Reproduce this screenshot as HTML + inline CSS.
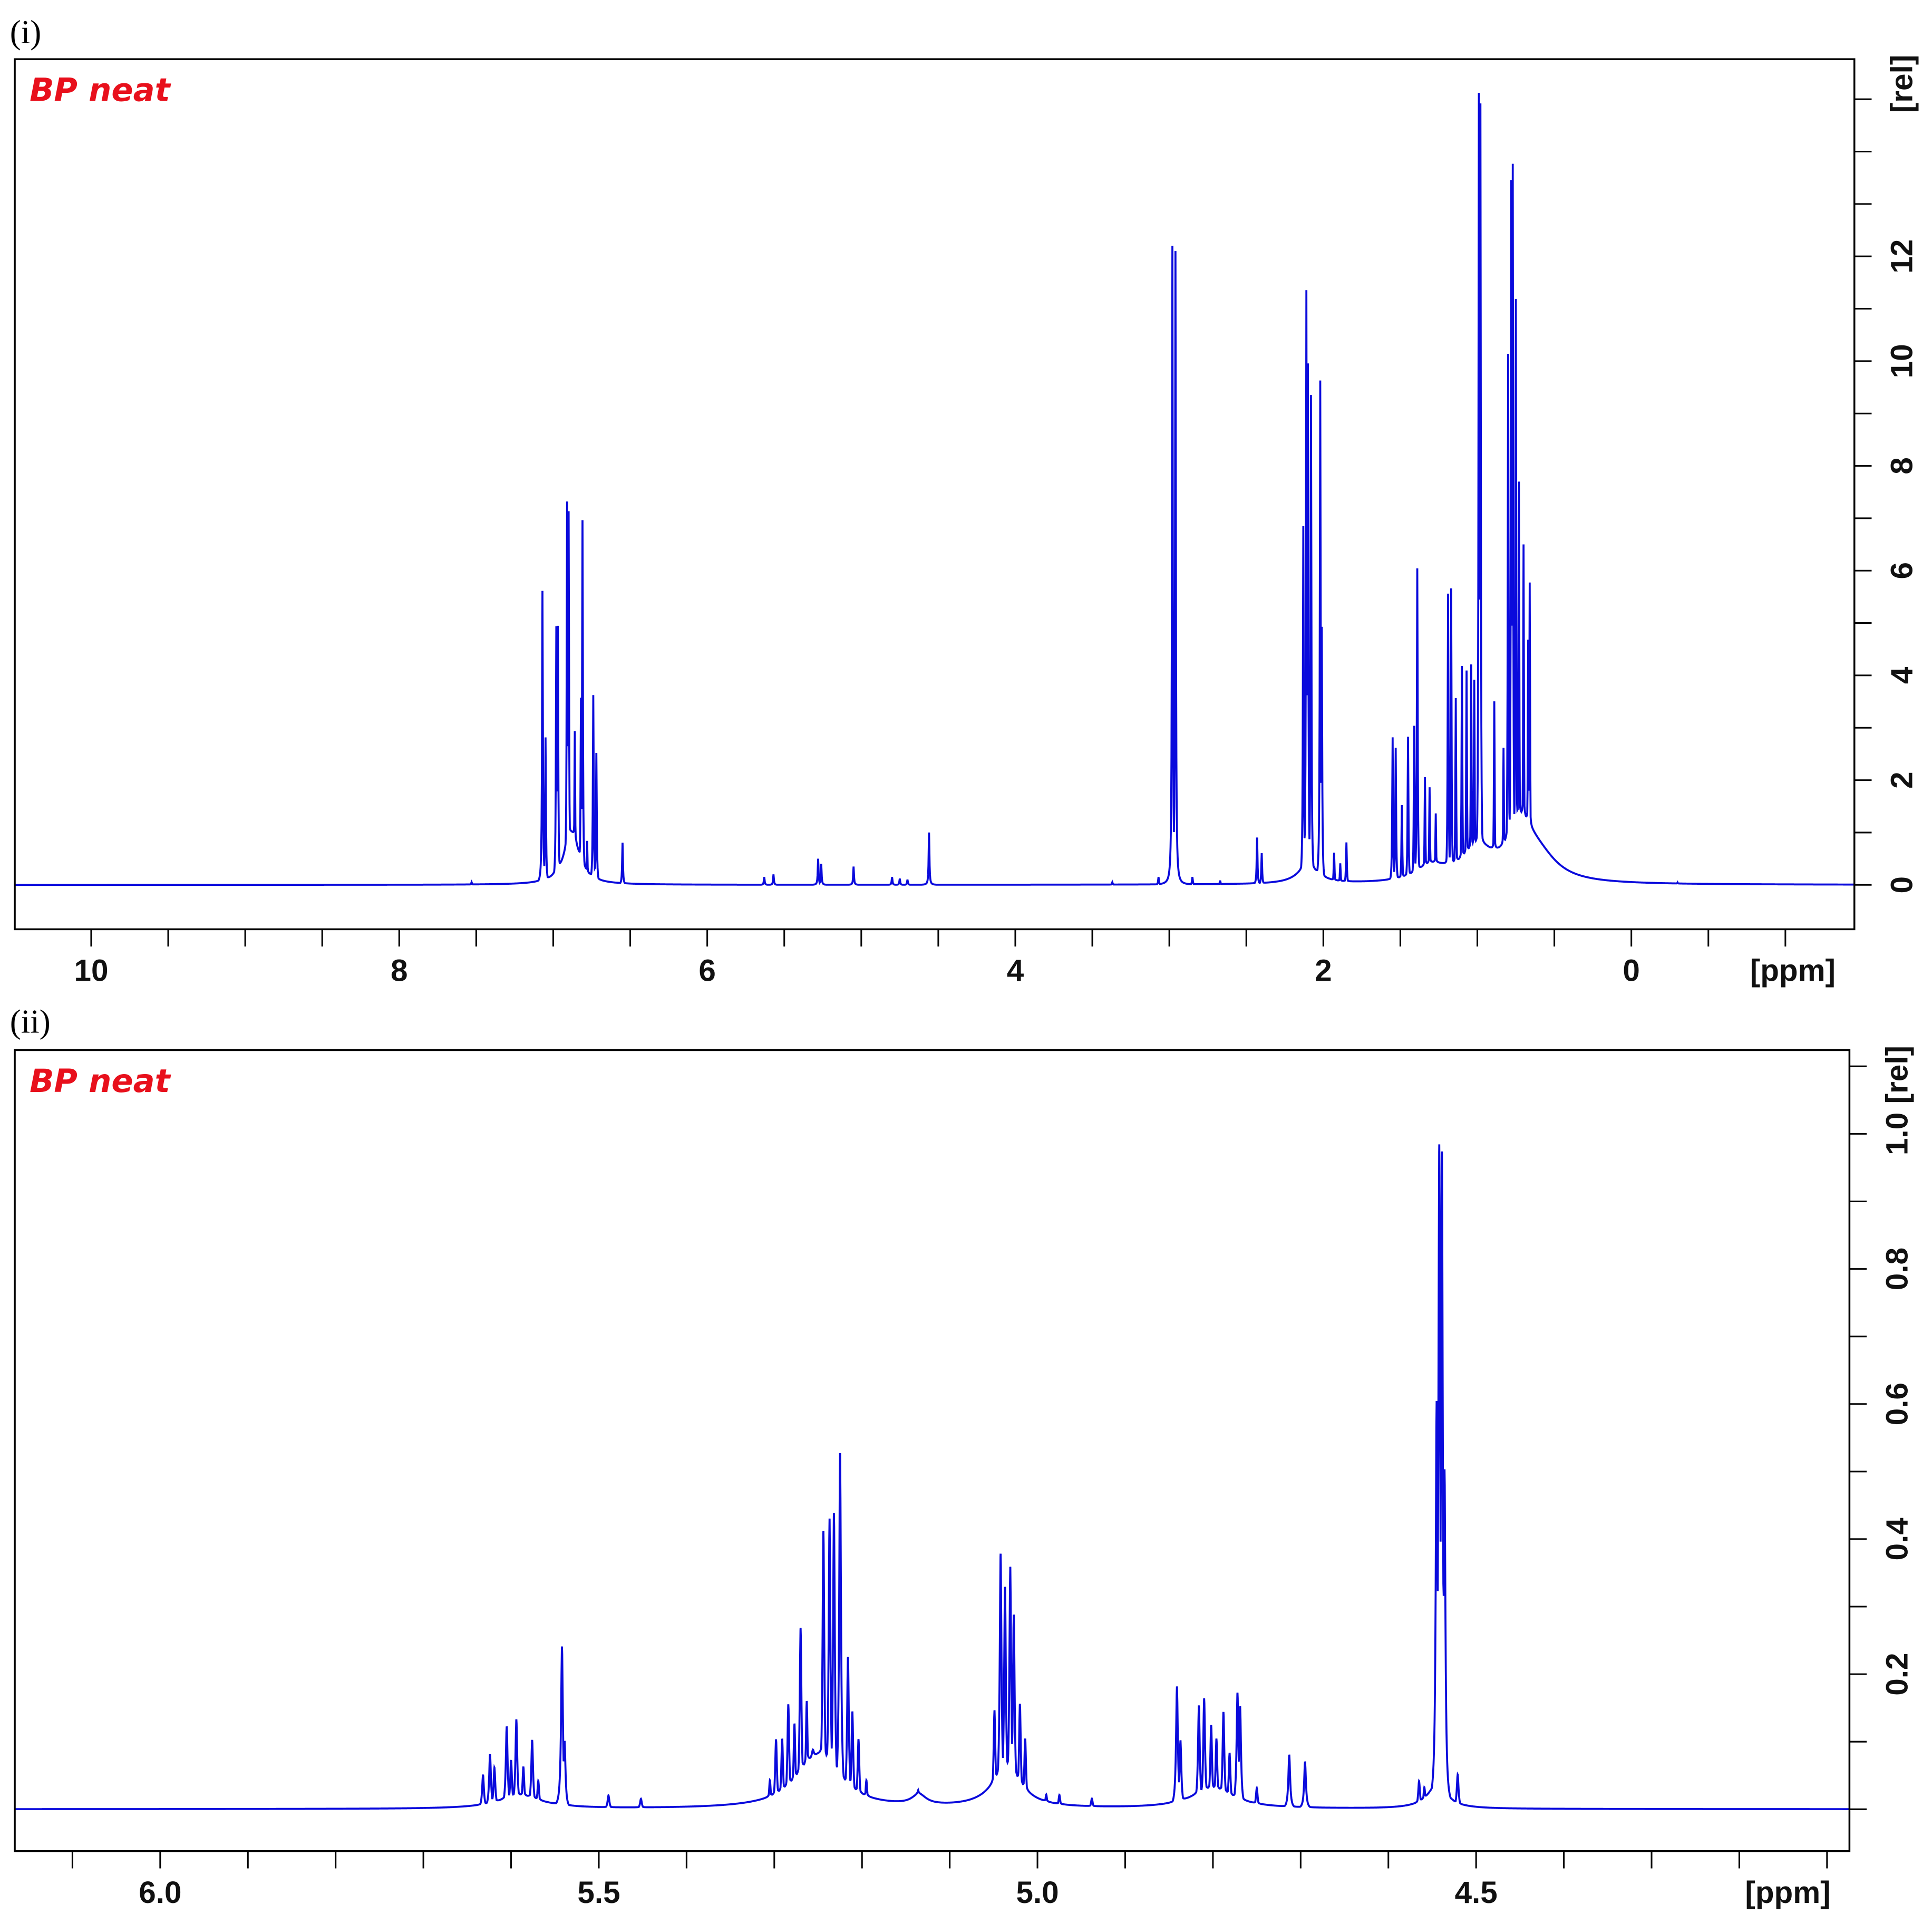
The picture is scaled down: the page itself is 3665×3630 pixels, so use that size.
<!DOCTYPE html>
<html><head><meta charset="utf-8"><style>
html,body{margin:0;padding:0;background:#fff}
svg{display:block}
.tk{font-family:"Liberation Sans",sans-serif;font-weight:bold;font-size:25px;fill:#111}
</style></head><body>
<svg id="chart" width="3665" height="3630" viewBox="0 0 1568 1553" xmlns="http://www.w3.org/2000/svg">
<rect width="1568" height="1553" fill="#fff"/>
<text x="8" y="35" font-family="Liberation Serif,serif" font-size="27">(i)</text>
<text x="8" y="838" font-family="Liberation Serif,serif" font-size="27">(ii)</text>
<g id="p1"></g>
<g id="p2"></g>
</svg>
<script>
// Panel (i) full spectrum peaks
const p1Ppm = [7.53,7.07,7.05,6.98,6.97,6.91,6.90,6.86,6.82,6.81,6.78,6.74,6.72,6.55,5.63,5.57,5.28,5.26,5.05,4.80,4.75,4.70,4.56,3.37,3.07,2.98,2.96,2.85,2.67,2.43,2.40,2.13,2.11,2.10,2.08,2.02,2.01,1.93,1.89,1.85,1.55,1.53,1.49,1.45,1.41,1.39,1.34,1.31,1.27,1.19,1.17,1.14,1.10,1.07,1.04,1.02,0.99,0.98,0.89,0.83,0.80,0.78,0.77,0.75,0.73,0.70,0.67,0.66,-0.30];
const p1Height = [0.05,5.6,2.8,4.9,4.9,7.2,7.0,2.8,3.5,6.9,0.8,3.6,2.5,0.8,0.15,0.2,0.5,0.4,0.35,0.15,0.12,0.1,1.0,0.05,0.15,12.2,12.1,0.15,0.08,0.9,0.6,6.8,11.3,9.9,9.3,9.6,4.9,0.6,0.4,0.8,2.8,2.6,1.5,2.8,3.0,6.0,2.0,1.8,1.3,5.5,5.6,3.5,4.1,4.0,4.1,3.8,15.0,14.8,3.4,2.5,10.0,13.3,13.6,11.0,7.5,6.3,4.5,5.6,0.04];
const p1HumpPpm = [6.88,2.10,1.30,1.00,0.72,0.60];
const p1HumpHeight = [1.0,0.35,0.3,0.6,1.0,0.4];
const p1HumpWidth = [0.06,0.08,0.12,0.12,0.10,0.15];
const p1YTicks = ["0","2","4","6","8","10","12"];
const p1XTicks = ["10","8","6","4","2","0"];
// Panel (ii) expansion peaks
const p2Ppm = [5.632,5.624,5.619,5.605,5.600,5.594,5.586,5.576,5.569,5.542,5.539,5.489,5.452,5.305,5.298,5.291,5.284,5.277,5.270,5.263,5.256,5.244,5.237,5.232,5.225,5.216,5.211,5.204,5.195,5.136,5.049,5.042,5.037,5.031,5.027,5.020,5.014,4.990,4.975,4.938,4.841,4.837,4.816,4.810,4.802,4.796,4.788,4.781,4.772,4.769,4.750,4.713,4.695,4.565,4.559,4.545,4.542,4.539,4.536,4.521];
const p2Height = [0.05,0.08,0.06,0.12,0.07,0.13,0.06,0.10,0.04,0.24,0.10,0.02,0.015,0.04,0.10,0.10,0.15,0.12,0.26,0.15,0.07,0.40,0.42,0.43,0.52,0.22,0.14,0.10,0.04,0.025,0.14,0.37,0.32,0.35,0.28,0.15,0.10,0.02,0.02,0.015,0.18,0.10,0.15,0.16,0.12,0.10,0.14,0.08,0.17,0.15,0.03,0.08,0.07,0.04,0.03,0.60,0.98,0.97,0.50,0.05];
const p2HumpPpm = [5.59,5.25,5.135,5.035,4.80,4.545];
const p2HumpHeight = [0.02,0.08,0.015,0.06,0.03,0.03];
const p2HumpWidth = [0.03,0.03,0.01,0.02,0.03,0.015];
const p2YTicks = ["0.2","0.4","0.6","0.8","1.0"];
const p2XTicks = ["6.0","5.5","5.0","4.5"];

const NS="http://www.w3.org/2000/svg";
function mk(parent,tag,attrs){const e=document.createElementNS(NS,tag);for(const k in attrs)e.setAttribute(k,attrs[k]);parent.appendChild(e);return e;}

function spectrum(ppm,ppms,hs,g,hp,hh,hw){let m=0,b=0;
 for(let i=0;i<ppms.length;i++){const d=ppm-ppms[i];const v=hs[i]*g*g/(d*d+g*g);if(v>m)m=v;}
 for(let i=0;i<hp.length;i++){const d=ppm-hp[i];b+=hh[i]*hw[i]*hw[i]/(d*d+hw[i]*hw[i]);}
 return Math.max(m,b)+Math.min(m,b)*0.15;}

function panel(gid,cfg){
 const g=document.getElementById(gid);
 const X=p=>cfg.x0+(cfg.p0-p)*cfg.pxPerPpm;
 const Y=v=>cfg.yZero-v*cfg.pxPerUnit;
 const clipId=gid+"clip";
 const cp=mk(g,"clipPath",{id:clipId});mk(cp,"rect",{x:cfg.L,y:cfg.T,width:cfg.R-cfg.L,height:cfg.B-cfg.T});
 const pLeft=cfg.p0-(cfg.L-cfg.x0)/cfg.pxPerPpm, pRight=cfg.p0-(cfg.R-cfg.x0)/cfg.pxPerPpm;
 const all=[];
 for(let p=pLeft;p>=pRight;p-=cfg.step)all.push(p);
 cfg.ppm.forEach(p=>all.push(p));
 all.sort((a,b)=>b-a);
 let d="";all.forEach((p,i)=>{const v=spectrum(p,cfg.ppm,cfg.h,cfg.g,cfg.hp,cfg.hh,cfg.hw);d+=(i?"L":"M")+X(p).toFixed(2)+" "+Y(v).toFixed(2);});
 const path=mk(g,"path",{d:d,fill:"none",stroke:"#0a0adc","stroke-width":"1.6","clip-path":"url(#"+clipId+")"});
 
 
 const fr=mk(g,"rect",{x:cfg.L,y:cfg.T,width:cfg.R-cfg.L,height:cfg.B-cfg.T,fill:"none",stroke:"#000","stroke-width":"1.5"});
 
 
 const t=mk(g,"text",{x:cfg.L+12,y:cfg.T+34,fill:"#e8101c","font-family":"DejaVu Sans,sans-serif","font-style":"italic","font-weight":"bold","font-size":"26"});
 t.textContent="BP neat";
 
 
 for(let p=Math.ceil(pRight/cfg.xMinor)*cfg.xMinor;p<=pLeft;p+=cfg.xMinor){const x=X(p);
  const tk=mk(g,"line",{x1:x,y1:cfg.B,x2:x,y2:cfg.B+14,stroke:"#000","stroke-width":"1.3"});
  
  }
 cfg.xTicks.forEach(s=>{const lb=mk(g,"text",{x:X(parseFloat(s)),y:cfg.B+42,"text-anchor":"middle",class:"tk"});lb.textContent=s;
  
  });
 const xu=mk(g,"text",{x:cfg.R-50,y:cfg.B+42,"text-anchor":"middle",class:"tk"});xu.textContent="[ppm]";
 
 
 for(let v=Math.ceil((cfg.yZero-cfg.B)/cfg.pxPerUnit/cfg.yMinor)*cfg.yMinor;Y(v)>=cfg.T;v+=cfg.yMinor){const y=Y(v);
  const tk=mk(g,"line",{x1:cfg.R,y1:y,x2:cfg.R+14,y2:y,stroke:"#000","stroke-width":"1.3"});
  
  }
 cfg.yTicks.forEach(s=>{const y=Y(parseFloat(s));const lb=mk(g,"text",{x:0,y:0,"text-anchor":"middle",class:"tk",transform:"translate("+(cfg.R+47)+","+y+") rotate(-90)"});lb.textContent=s;
  
  });
 const yu=mk(g,"text",{x:0,y:0,"text-anchor":"middle",class:"tk",transform:"translate("+(cfg.R+47)+","+(cfg.T+20)+") rotate(-90)"});yu.textContent="[rel]";
 
 
}

panel("p1",{L:12,R:1505,T:48,B:754,x0:1324,p0:0,pxPerPpm:125,yZero:718,pxPerUnit:42.5,step:0.002,g:0.003,
 ppm:p1Ppm,h:p1Height,hp:p1HumpPpm,hh:p1HumpHeight,hw:p1HumpWidth,xTicks:p1XTicks,yTicks:p1YTicks,xMinor:0.5,yMinor:1});
panel("p2",{L:12,R:1501,T:852,B:1502,x0:130,p0:6.0,pxPerPpm:712,yZero:1468,pxPerUnit:548,step:0.0004,g:0.0012,
 ppm:p2Ppm,h:p2Height,hp:p2HumpPpm,hh:p2HumpHeight,hw:p2HumpWidth,xTicks:p2XTicks,yTicks:p2YTicks,xMinor:0.1,yMinor:0.1});
</script>
</body></html>
